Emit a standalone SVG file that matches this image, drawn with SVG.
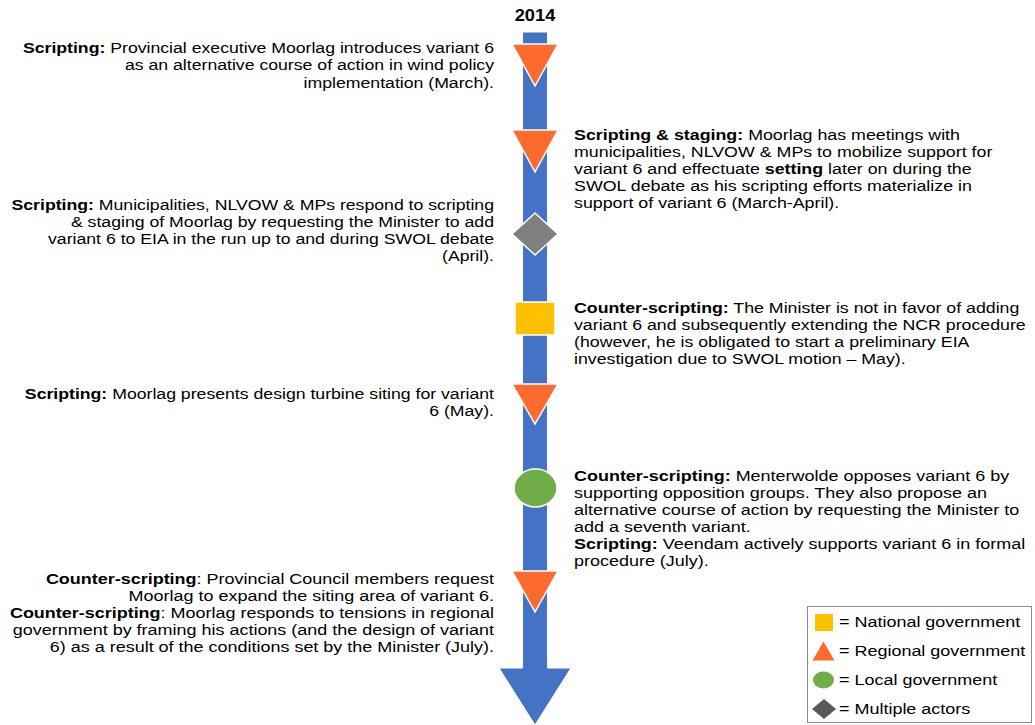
<svg xmlns="http://www.w3.org/2000/svg" width="1035" height="725" viewBox="0 0 1035 725">
  <style>
    text { font-family: "Liberation Sans", Arial, sans-serif; font-size: 15.5px; fill: #000; }
    .b { font-weight: bold; }
    .end { text-anchor: end; }
    .reg { fill: #FF6B2F; stroke: #fff; stroke-width: 1.5; }
    .nat { fill: #FFC000; stroke: #fff; stroke-width: 1.5; }
    .loc { fill: #70AD47; stroke: #fff; stroke-width: 1.5; }
    .mul { fill: #808080; stroke: #fff; stroke-width: 1.5; }
    .timeline { fill: #4472C4; stroke: #fff; stroke-width: 1; }
  </style>
  <rect width="1035" height="725" fill="#fff"/>

  <g id="connectors">
    <path class="timeline" d="M522.5,32 H547.5 V668 H571 L535,725 L499,668 H522.5 Z"/>
  </g>

  <g id="year" transform="translate(535,0) scale(1.14,1)">
    <text class="b" x="0" y="21" text-anchor="middle" style="font-size:16px">2014</text>
  </g>

  <g id="event1">
    <polygon class="reg" points="512,44 558,44 535,86"/>
    <g transform="translate(494,0) scale(1.14,1)">
      <text class="end" x="0" y="53"><tspan class="b">Scripting:</tspan> Provincial executive Moorlag introduces variant 6</text>
      <text class="end" x="0" y="70.5">as an alternative course of action in wind policy</text>
      <text class="end" x="0" y="88">implementation (March).</text>
    </g>
  </g>

  <g id="event2">
    <polygon class="reg" points="512,130 558,130 535,172"/>
    <g transform="translate(574,0) scale(1.15,1)">
      <text x="0" y="140"><tspan class="b">Scripting &amp; staging:</tspan> Moorlag has meetings with</text>
      <text x="0" y="157">municipalities, NLVOW &amp; MPs to mobilize support for</text>
      <text x="0" y="174">variant 6 and effectuate <tspan class="b">setting</tspan> later on during the</text>
      <text x="0" y="191">SWOL debate as his scripting efforts materialize in</text>
      <text x="0" y="208">support of variant 6 (March-April).</text>
    </g>
  </g>

  <g id="event3">
    <polygon class="mul" points="535,213 558,234 535,255 512,234"/>
    <g transform="translate(494,0) scale(1.14,1)">
      <text class="end" x="0" y="210"><tspan class="b">Scripting:</tspan> Municipalities, NLVOW &amp; MPs respond to scripting</text>
      <text class="end" x="0" y="227">&amp; staging of Moorlag by requesting the Minister to add</text>
      <text class="end" x="0" y="244">variant 6 to EIA in the run up to and during SWOL debate</text>
      <text class="end" x="0" y="261">(April).</text>
    </g>
  </g>

  <g id="event4">
    <rect class="nat" x="515" y="302" width="40" height="33"/>
    <g transform="translate(574,0) scale(1.145,1)">
      <text x="0" y="313"><tspan class="b">Counter-scripting:</tspan> The Minister is not in favor of adding</text>
      <text x="0" y="330">variant 6 and subsequently extending the NCR procedure</text>
      <text x="0" y="347">(however, he is obligated to start a preliminary EIA</text>
      <text x="0" y="364">investigation due to SWOL motion – May).</text>
    </g>
  </g>

  <g id="event5">
    <polygon class="reg" points="512,384 558,384 535,424"/>
    <g transform="translate(494,0) scale(1.14,1)">
      <text class="end" x="0" y="399"><tspan class="b">Scripting:</tspan> Moorlag presents design turbine siting for variant</text>
      <text class="end" x="0" y="416">6 (May).</text>
    </g>
  </g>

  <g id="event6">
    <ellipse class="loc" cx="535.5" cy="488" rx="21.5" ry="19"/>
    <g transform="translate(574,0) scale(1.16,1)">
      <text x="0" y="481"><tspan class="b">Counter-scripting:</tspan> Menterwolde opposes variant 6 by</text>
      <text x="0" y="498">supporting opposition groups. They also propose an</text>
      <text x="0" y="515">alternative course of action by requesting the Minister to</text>
      <text x="0" y="532">add a seventh variant.</text>
      <text x="0" y="549"><tspan class="b">Scripting:</tspan> Veendam actively supports variant 6 in formal</text>
      <text x="0" y="566">procedure (July).</text>
    </g>
  </g>

  <g id="event7">
    <polygon class="reg" points="512,571 558,571 535,612"/>
    <g transform="translate(494,0) scale(1.16,1)">
      <text class="end" x="0" y="584"><tspan class="b">Counter-scripting</tspan>: Provincial Council members request</text>
      <text class="end" x="0" y="601">Moorlag to expand the siting area of variant 6.</text>
      <text class="end" x="0" y="618"><tspan class="b">Counter-scripting</tspan>: Moorlag responds to tensions in regional</text>
      <text class="end" x="0" y="635">government by framing his actions (and the design of variant</text>
      <text class="end" x="0" y="652">6) as a result of the conditions set by the Minister (July).</text>
    </g>
  </g>

  <g id="legend">
    <rect x="807.5" y="606.5" width="224" height="116" fill="#fff" stroke="#8C8C8C" stroke-width="1"/>
    <rect x="815" y="614" width="18" height="17" fill="#FFC000"/>
    <polygon points="812.5,660.5 834.5,660.5 823.5,641.5" fill="#FF6B2F"/>
    <ellipse cx="823.5" cy="680" rx="10.5" ry="8.5" fill="#70AD47"/>
    <polygon points="824,699 836,709 824,719 812,709" fill="#595959"/>
    <g transform="translate(839,0) scale(1.16,1)">
      <text x="0" y="627">= National government</text>
      <text x="0" y="656">= Regional government</text>
      <text x="0" y="685">= Local government</text>
      <text x="0" y="714">= Multiple actors</text>
    </g>
  </g>
</svg>
